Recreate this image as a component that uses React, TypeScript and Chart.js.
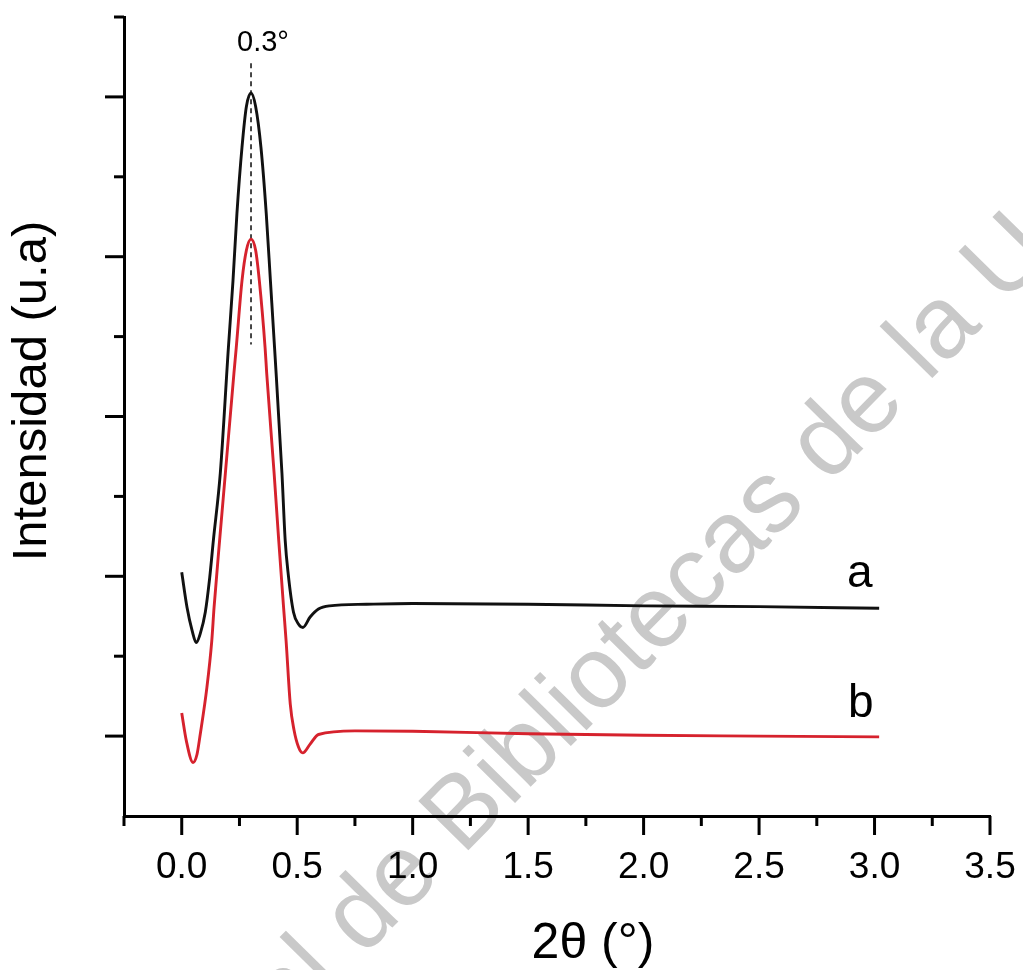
import React, { useEffect, useRef } from "react";
import { Chart, registerables } from "chart.js";

Chart.register(...registerables);

// ---- data (2θ in degrees, intensity in arbitrary units) ----
const A_X = [0.0, 0.023, 0.045, 0.063, 0.08, 0.102, 0.121, 0.137, 0.167, 0.202, 0.222, 0.239, 0.261, 0.28, 0.3, 0.32, 0.343, 0.366, 0.384, 0.402, 0.434, 0.448, 0.461, 0.484, 0.506, 0.525, 0.556, 0.592, 0.64, 0.8, 1.0, 1.5, 2.0, 2.5, 3.02];
const A_Y = [3.05, 2.61, 2.32, 2.17, 2.28, 2.55, 2.98, 3.45, 4.29, 5.86, 6.7, 7.54, 8.37, 8.88, 9.05, 8.88, 8.37, 7.54, 6.7, 5.86, 4.29, 3.45, 3.03, 2.55, 2.4, 2.36, 2.49, 2.59, 2.63, 2.65, 2.66, 2.65, 2.63, 2.62, 2.6];

const B_X = [0.0, 0.02, 0.049, 0.066, 0.08, 0.109, 0.13, 0.14, 0.164, 0.189, 0.226, 0.236, 0.261, 0.28, 0.3, 0.32, 0.336, 0.361, 0.368, 0.4, 0.42, 0.441, 0.452, 0.47, 0.486, 0.506, 0.524, 0.556, 0.592, 0.75, 1.0, 1.5, 2.0, 2.5, 3.02];
const B_Y = [1.29, 0.94, 0.67, 0.77, 1.02, 1.61, 2.19, 2.61, 3.45, 4.29, 5.54, 5.86, 6.7, 7.08, 7.22, 7.08, 6.7, 5.86, 5.54, 4.29, 3.45, 2.61, 2.19, 1.4, 1.08, 0.86, 0.79, 0.9, 1.02, 1.065, 1.06, 1.03, 1.01, 1.0, 0.99];

const X_TICKS = [0, 0.5, 1.0, 1.5, 2.0, 2.5, 3.0, 3.5];
const X_MINOR = [-0.25, 0.25, 0.75, 1.25, 1.75, 2.25, 2.75, 3.25];
const Y_MAJOR = [1, 3, 5, 7, 9];
const Y_MINOR = [2, 4, 6, 8, 10];

const PEAK_X = 0.3;
const PEAK_LINE_Y = [5.9, 9.42];
const PEAK_LABEL = "0.3°";
const SERIES_LABELS = ["a", "b"];
const X_TITLE = "2θ (°)";
const Y_TITLE = "Intensidad (u.a)";
const WATERMARK = "Dirección General de Bibliotecas de la UAQ";

const FONT = '"Liberation Sans", Arial, Helvetica, sans-serif';

const decorPlugin = {
  id: "decor",
  beforeDraw(chart: any) {
    const ctx = chart.ctx;
    // watermark (beneath everything)
    ctx.save();
    ctx.fillStyle = "#c9c9c9";
    ctx.font = `102px ${FONT}`;
    ctx.textBaseline = "alphabetic";
    ctx.translate(460, 806);
    ctx.rotate((-45.5 * Math.PI) / 180);
    const pre = ctx.measureText("Dirección General de ").width;
    const bw = ctx.measureText("B").width;
    ctx.fillText(WATERMARK, -pre - bw / 2, 37);
    ctx.restore();
  },
  beforeDatasetsDraw(chart: any) {
    const ctx = chart.ctx;
    // dashed peak marker
    const xs = chart.scales.x;
    const ys = chart.scales.y;
    const px = xs.getPixelForValue(PEAK_X);
    ctx.save();
    ctx.strokeStyle = "#333";
    ctx.lineWidth = 1.8;
    ctx.setLineDash([5, 4]);
    ctx.beginPath();
    ctx.moveTo(px, ys.getPixelForValue(PEAK_LINE_Y[1]));
    ctx.lineTo(px, ys.getPixelForValue(PEAK_LINE_Y[0]));
    ctx.stroke();
    ctx.restore();
  },
  afterDraw(chart: any) {
    const ctx = chart.ctx;
    const xs = chart.scales.x;
    const ys = chart.scales.y;
    const { left, bottom } = chart.chartArea;
    ctx.save();
    ctx.strokeStyle = "#000";
    ctx.lineWidth = 3;
    ctx.lineCap = "butt";
    const seg = (x1: number, y1: number, x2: number, y2: number) => {
      ctx.beginPath();
      ctx.moveTo(x1, y1);
      ctx.lineTo(x2, y2);
      ctx.stroke();
    };
    X_TICKS.forEach((v) => {
      const p = xs.getPixelForValue(v);
      seg(p, bottom, p, bottom + 19);
    });
    X_MINOR.forEach((v) => {
      const p = xs.getPixelForValue(v);
      seg(p, bottom, p, bottom + 10);
    });
    Y_MAJOR.forEach((v) => {
      const p = ys.getPixelForValue(v);
      seg(left, p, left - 19, p);
    });
    Y_MINOR.forEach((v) => {
      const p = ys.getPixelForValue(v);
      seg(left, p, left - 10, p);
    });
    ctx.restore();

    ctx.save();
    ctx.fillStyle = "#000";
    ctx.textBaseline = "alphabetic";
    // peak label
    ctx.font = `29px ${FONT}`;
    ctx.textAlign = "left";
    ctx.fillText(PEAK_LABEL, 237, 51);
    // series labels
    ctx.font = `46px ${FONT}`;
    ctx.fillText(SERIES_LABELS[0], 847, 587);
    ctx.fillText(SERIES_LABELS[1], 848, 717);
    // x title
    ctx.font = `50px ${FONT}`;
    ctx.textAlign = "center";
    ctx.fillText(X_TITLE, 593, 958);
    // y title
    ctx.save();
    ctx.translate(46, 391);
    ctx.rotate(-Math.PI / 2);
    ctx.font = `49px ${FONT}`;
    ctx.textAlign = "center";
    ctx.fillText(Y_TITLE, 0, 0);
    ctx.restore();
    ctx.restore();
  },
};

export default function App() {
  const ref = useRef<HTMLCanvasElement | null>(null);
  useEffect(() => {
    if (!ref.current) return;
    const toPts = (xs: number[], ys: number[]) => xs.map((x, i) => ({ x, y: ys[i] }));
    const chart = new Chart(ref.current, {
      type: "line",
      data: {
        datasets: [
          {
            label: SERIES_LABELS[0],
            data: toPts(A_X, A_Y),
            borderColor: "#111111",
            borderWidth: 2.9,
            pointRadius: 0,
            cubicInterpolationMode: "monotone",
            fill: false,
          },
          {
            label: SERIES_LABELS[1],
            data: toPts(B_X, B_Y),
            borderColor: "#d6222d",
            borderWidth: 2.9,
            pointRadius: 0,
            cubicInterpolationMode: "monotone",
            fill: false,
          },
        ],
      },
      options: {
        responsive: false,
        animation: false,
        layout: { padding: { top: 17, right: 33, left: 0, bottom: 0 } },
        plugins: { legend: { display: false }, tooltip: { enabled: false } },
        scales: {
          x: {
            type: "linear",
            min: -0.25,
            max: 3.5,
            afterBuildTicks: (s: any) => {
              s.ticks = X_TICKS.map((v) => ({ value: v }));
            },
            afterFit: (s: any) => {
              s.height = 154;
              s.paddingLeft = 0;
              s.paddingRight = 0;
            },
            ticks: {
              color: "#000",
              font: { family: FONT, size: 37 },
              padding: 30,
              maxRotation: 0,
              autoSkip: false,
              callback: (v: any) => Number(v).toFixed(1),
            },
            grid: { display: false, drawTicks: false },
            border: { display: true, color: "#000", width: 3 },
          },
          y: {
            type: "linear",
            min: 0,
            max: 10,
            afterFit: (s: any) => {
              s.width = 124;
              s.paddingTop = 0;
              s.paddingBottom = 0;
            },
            ticks: { display: false },
            grid: { display: false, drawTicks: false },
            border: { display: true, color: "#000", width: 3 },
          },
        },
      },
      plugins: [decorPlugin],
    } as any);
    return () => chart.destroy();
  }, []);
  return (
    <div style={{ position: "fixed", left: 0, top: 0, width: 1023, height: 970, background: "#fff" }}>
      <canvas ref={ref} width={1023} height={970} style={{ display: "block" }} />
    </div>
  );
}
